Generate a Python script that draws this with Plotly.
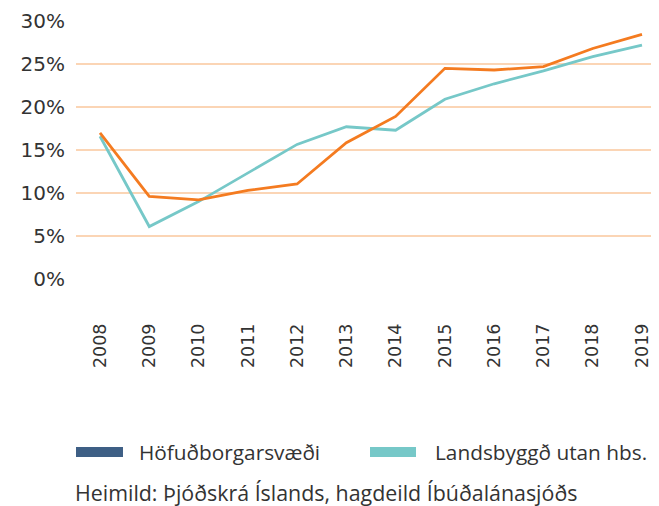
import plotly.graph_objects as go

years = ["2008", "2009", "2010", "2011", "2012", "2013", "2014", "2015", "2016", "2017", "2018", "2019"]
hofudborg = [17.0, 9.6, 9.2, 10.3, 11.05, 15.85, 18.9, 24.5, 24.3, 24.7, 26.8, 28.45]
landsbyggd = [16.6, 6.1, 9.0, 12.3, 15.65, 17.7, 17.3, 20.9, 22.7, 24.2, 25.85, 27.2]
y_ticks = [0, 5, 10, 15, 20, 25, 30]
y_tick_text = ["0%", "5%", "10%", "15%", "20%", "25%", "30%"]
legend_names = ["Höfuðborgarsvæði", "Landsbyggð utan hbs."]
source_text = "Heimild: Þjóðskrá Íslands, hagdeild Íbúðalánasjóðs"

ORANGE = "#F47B20"
TEAL = "#76C8C8"
NAVY = "#3E5F85"
GRID = "#FBD5B5"
TEXT = "#333333"
legend_colors = [NAVY, TEAL]

fig = go.Figure()
fig.add_trace(go.Scatter(x=years, y=landsbyggd, mode="lines", name=legend_names[1],
                         line=dict(color=TEAL, width=2.8), showlegend=False))
fig.add_trace(go.Scatter(x=years, y=hofudborg, mode="lines", name=legend_names[0],
                         line=dict(color=ORANGE, width=2.8), showlegend=False))

# custom legend (paper coordinates), as drawn in the reference
legend_swatch_x = [(0.0, 0.0806), (0.5043, 0.5832)]
legend_text_x = [0.1045, 0.6125]
shapes = []
annotations = []
for (x0, x1), tx, name, col in zip(legend_swatch_x, legend_text_x, legend_names, legend_colors):
    shapes.append(dict(type="rect", xref="paper", yref="paper", x0=x0, x1=x1,
                       y0=-0.690, y1=-0.651, fillcolor=col, line=dict(width=0)))
    annotations.append(dict(text=name, xref="paper", yref="paper", x=tx, y=-0.6705,
                            xanchor="left", yanchor="middle", showarrow=False,
                            font=dict(size=20.8, family="Open Sans, sans-serif", color=TEXT)))
annotations.append(dict(text=source_text, xref="paper", yref="paper",
                        x=-0.006, y=-0.8256, xanchor="left", yanchor="middle",
                        showarrow=False,
                        font=dict(size=21.4, family="Open Sans, sans-serif", color=TEXT)))

fig.update_layout(
    width=651, height=498,
    margin=dict(l=68, r=0, t=13, b=227),
    paper_bgcolor="white", plot_bgcolor="white",
    showlegend=False,
    font=dict(family="DejaVu Sans, sans-serif", color=TEXT),
    xaxis=dict(type="category", range=[-0.487, 11.345], showgrid=False,
               showline=False, zeroline=False, tickangle=-90,
               ticklabelstandoff=40,
               tickfont=dict(size=17.5, family="DejaVu Sans, sans-serif", color=TEXT)),
    yaxis=dict(range=[0, 30], tickvals=y_ticks, ticktext=y_tick_text,
               showgrid=True, gridcolor=GRID, gridwidth=1.6, zeroline=False,
               showline=False, ticklabelstandoff=10,
               tickfont=dict(size=20, family="DejaVu Sans, sans-serif", color=TEXT)),
    shapes=shapes,
    annotations=annotations,
)

fig.write_html("out.html")
